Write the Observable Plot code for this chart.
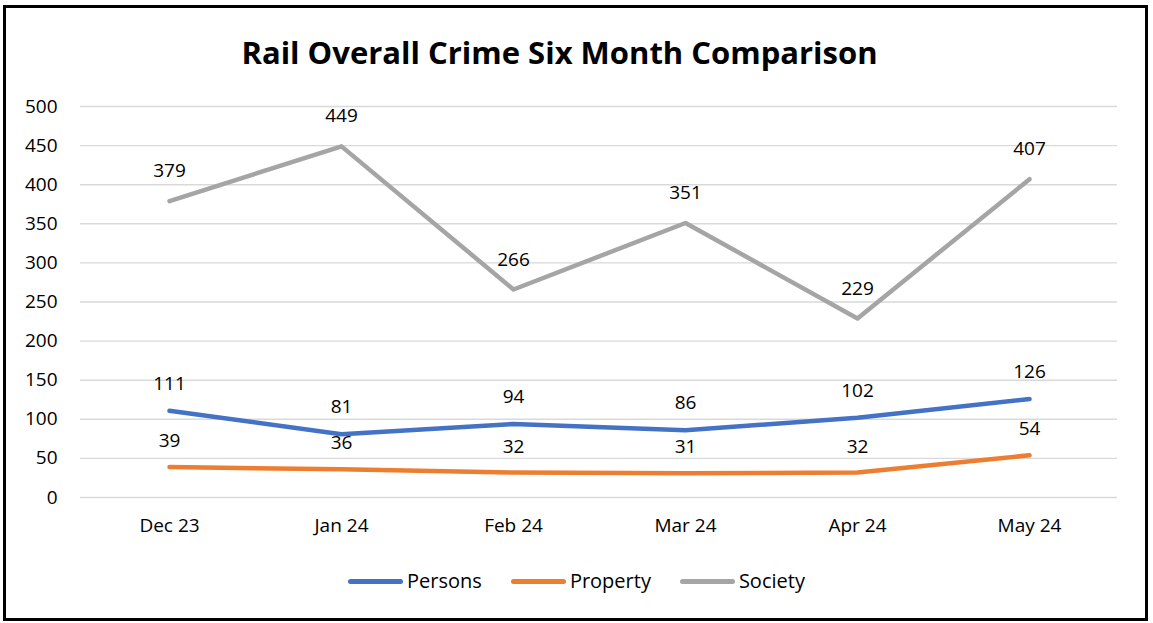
<!DOCTYPE html>
<html><head><meta charset="utf-8">
<script src="https://cdn.jsdelivr.net/npm/d3@7"></script>
<script src="https://cdn.jsdelivr.net/npm/@observablehq/plot@0.6"></script>
<style>
body{margin:0;background:#fff;font-family:"Open Sans",sans-serif;color:#000;}
#frame{position:absolute;left:3px;top:5px;width:1139px;height:610px;border:3px solid #000;}
#title{position:absolute;left:-17px;top:35px;width:1153px;text-align:center;font-weight:bold;font-size:31px;line-height:34px;}
#chart{position:absolute;left:0;top:90px;}
#legend{position:absolute;top:568px;left:0;width:1153px;display:flex;justify-content:center;gap:29px;font-size:20px;line-height:26px;}
.item{display:flex;align-items:center;}
.sw{width:55px;height:5px;border-radius:3px;margin-right:4px;}
</style></head>
<body>
<div id="frame"></div>
<div id="title">Rail Overall Crime Six Month Comparison</div>
<div id="chart"></div>
<div id="legend"></div>
<script>
const months = ["Dec 23","Jan 24","Feb 24","Mar 24","Apr 24","May 24"];
const seriesNames = ["Persons","Property","Society"];
const persons = [111,81,94,86,102,126];
const property = [39,36,32,31,32,54];
const society = [379,449,266,351,229,407];
const colors = ["#4472C4","#ED7D31","#A5A5A5"];
const yTicks = [0,50,100,150,200,250,300,350,400,450,500];

const valuesBySeries = [persons, property, society];
const data = [];
seriesNames.forEach((s,i)=>months.forEach((m,j)=>data.push({series:s, month:m, value:valuesBySeries[i][j]})));

const labelDy = {Persons:-27, Property:-26, Society:-30};
const labelMarks = seriesNames.map(s => Plot.text(data.filter(d=>d.series===s),
  {x:"month", y:"value", text:d=>String(d.value), dy:labelDy[s], fontSize:19, fill:"#000"}));

const chart = Plot.plot({
  width:1153, height:460,
  marginLeft:80, marginRight:36, marginTop:16, marginBottom:53,
  style:{fontFamily:"'Open Sans',sans-serif", fontSize:"19px", color:"#000", background:"transparent"},
  x:{type:"point", domain:months, padding:0.5},
  y:{domain:[0,500]},
  color:{domain:seriesNames, range:colors},
  marks:[
    Plot.gridY(yTicks,{stroke:"#d9d9d9", strokeOpacity:1, strokeWidth:1.4}),
    Plot.axisY(yTicks,{tickSize:0, tickPadding:23, fontSize:19, label:null}),
    Plot.axisX({tickSize:0, tickPadding:21, fontSize:19, label:null}),
    Plot.line(data,{x:"month", y:"value", z:"series", stroke:"series", strokeWidth:4.5, strokeLinecap:"round", strokeLinejoin:"round"}),
    ...labelMarks
  ]
});
document.getElementById("chart").appendChild(chart);

const leg = document.getElementById("legend");
seriesNames.forEach((s,i)=>{
  const it = document.createElement("div"); it.className="item";
  const sw = document.createElement("div"); sw.className="sw"; sw.style.background=colors[i];
  const tx = document.createElement("span"); tx.textContent=s;
  it.appendChild(sw); it.appendChild(tx); leg.appendChild(it);
});
</script>
</body></html>
